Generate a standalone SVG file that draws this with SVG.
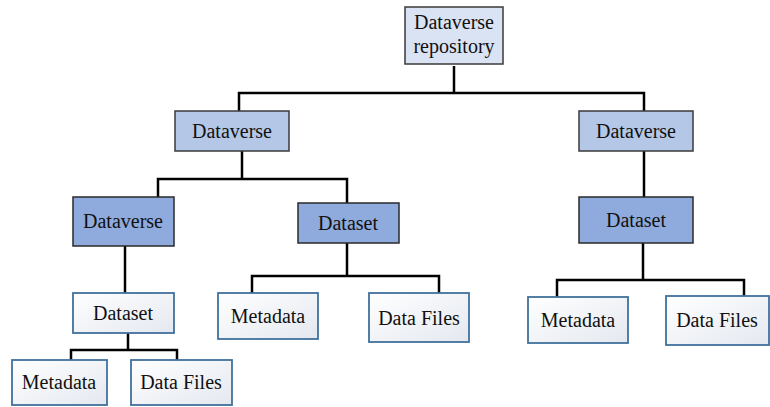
<svg xmlns="http://www.w3.org/2000/svg" width="770" height="407" viewBox="0 0 770 407">
<defs>
<linearGradient id="wg" x1="0" y1="0" x2="1" y2="1">
<stop offset="0" stop-color="#ffffff"/>
<stop offset="1" stop-color="#e4e8ef"/>
</linearGradient>
<style>
.top{fill:#dae3f3;stroke:#3a3a3a;stroke-width:1.5}
.lv1{fill:#b4c7e7;stroke:#3a3a3a;stroke-width:1.5}
.lv2{fill:#8faadc;stroke:#2a2a2a;stroke-width:1.5}
.wh{fill:url(#wg);stroke:#41719c;stroke-width:1.8}
.c{fill:none;stroke:#000;stroke-width:2.5}
</style>
</defs>
<rect width="770" height="407" fill="#fff"/>
<g id="connectors">
<path class="c" d="M454 66V93M239 111V93H644V111"/>
<path class="c" d="M644 151V197"/>
<path class="c" d="M242 151V179M158 197V179H347V203"/>
<path class="c" d="M125 246V293"/>
<path class="c" d="M128 333V350M71 360V350H177V360"/>
<path class="c" d="M347 243V276M252 293V276H439V293"/>
<path class="c" d="M643 243V280M557 297V280H744V297"/>
</g>
<g font-family="'Liberation Serif', 'Times New Roman', 'DejaVu Serif', serif" font-size="20" fill="#111" text-anchor="middle">
<g id="repo"><rect class="top" x="405" y="7" width="98" height="57"/><text x="454" y="29">Dataverse</text><text x="454" y="53">repository</text></g>
<g id="dv1"><rect class="lv1" x="175" y="111" width="114" height="40"/><text x="232" y="138">Dataverse</text></g>
<g id="dv2"><rect class="lv1" x="579" y="111" width="114" height="40"/><text x="636" y="138">Dataverse</text></g>
<g id="dv3"><rect class="lv2" x="73" y="197" width="101" height="49"/><text x="123" y="228">Dataverse</text></g>
<g id="ds1"><rect class="lv2" x="298" y="203" width="101" height="40"/><text x="348" y="230">Dataset</text></g>
<g id="ds2"><rect class="lv2" x="579" y="197" width="114" height="46"/><text x="636" y="227">Dataset</text></g>
<g id="ds3"><rect class="wh" x="73" y="293" width="101" height="40"/><text x="123" y="320">Dataset</text></g>
<g id="md1"><rect class="wh" x="218" y="293" width="100" height="46"/><text x="268" y="323">Metadata</text></g>
<g id="df1"><rect class="wh" x="369" y="293" width="100" height="49"/><text x="419" y="325">Data Files</text></g>
<g id="md2"><rect class="wh" x="528" y="297" width="100" height="46"/><text x="578" y="327">Metadata</text></g>
<g id="df2"><rect class="wh" x="666" y="296" width="103" height="49"/><text x="717" y="327">Data Files</text></g>
<g id="md3"><rect class="wh" x="12" y="360" width="95" height="45"/><text x="59" y="389">Metadata</text></g>
<g id="df3"><rect class="wh" x="131" y="360" width="101" height="45"/><text x="181" y="389">Data Files</text></g>
</g>
</svg>
